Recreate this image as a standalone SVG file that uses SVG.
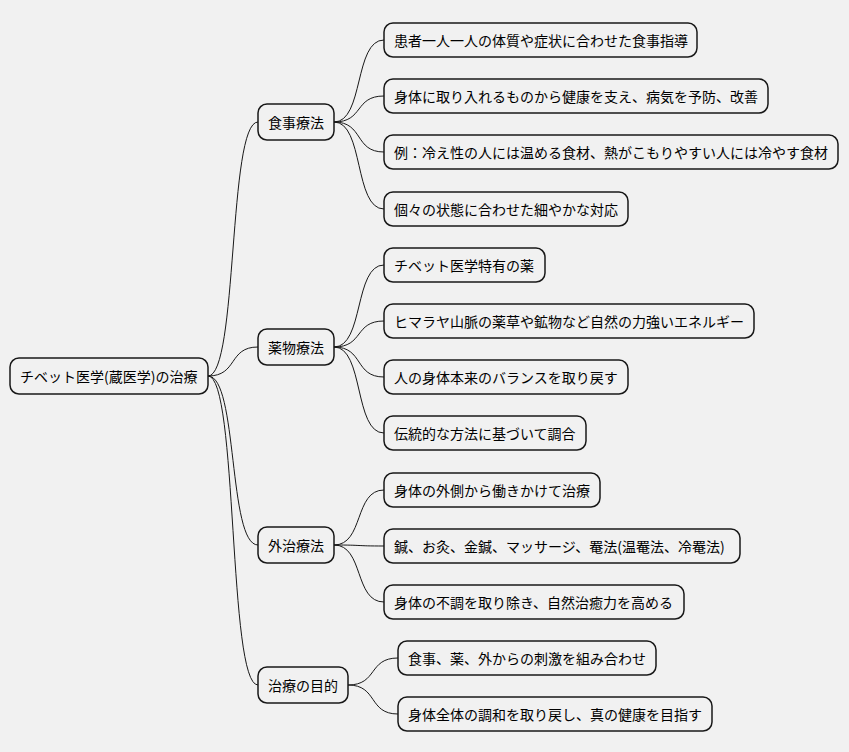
<svg xmlns="http://www.w3.org/2000/svg" width="849" height="752" viewBox="0 0 849 752">
<style>
rect{fill:#f1f1f1;stroke:#181818;stroke-width:1.5}
text{font-family:"Noto Sans CJK JP","Noto Sans",sans-serif;font-size:14px;fill:#000;dominant-baseline:central}
#c path{fill:none;stroke:#181818;stroke-width:1}
</style>
<rect width="849" height="752" fill="#fff" style="stroke:none"/>
<g id="c">
<path d="M208,376 C238,376 228,122 258,122"/>
<path d="M208,376 C238,376 228,347 258,347"/>
<path d="M208,376 C238,376 228,545 258,545"/>
<path d="M208,376 C238,376 228,685 258,685"/>
<path d="M334,122 C364,122 354,40 384,40"/>
<path d="M334,122 C364,122 354,96 384,96"/>
<path d="M334,122 C364,122 354,152 384,152"/>
<path d="M334,122 C364,122 354,209 384,209"/>
<path d="M334,347 C364,347 354,265 384,265"/>
<path d="M334,347 C364,347 354,321 384,321"/>
<path d="M334,347 C364,347 354,377 384,377"/>
<path d="M334,347 C364,347 354,433 384,433"/>
<path d="M334,545 C364,545 354,490 384,490"/>
<path d="M334,545 C364,545 354,546 384,546"/>
<path d="M334,545 C364,545 354,602 384,602"/>
<path d="M348,685 C378,685 368,658 398,658"/>
<path d="M348,685 C378,685 368,714 398,714"/>
</g>
<g id="root"><rect x="10" y="358" width="198" height="36" rx="9"/><text x="20" y="376">チベット医学(蔵医学)の治療</text></g>
<g id="n1"><rect x="258" y="104" width="76" height="36" rx="9"/><text x="268" y="122">食事療法</text></g>
<g id="n2"><rect x="258" y="329" width="76" height="36" rx="9"/><text x="268" y="347">薬物療法</text></g>
<g id="n3"><rect x="258" y="527" width="76" height="36" rx="9"/><text x="268" y="545">外治療法</text></g>
<g id="n4"><rect x="258" y="667" width="90" height="36" rx="9"/><text x="268" y="685">治療の目的</text></g>
<g id="l1"><rect x="384" y="23" width="313" height="34" rx="9"/><text x="394" y="40">患者一人一人の体質や症状に合わせた食事指導</text></g>
<g id="l2"><rect x="384" y="79" width="384" height="34" rx="9"/><text x="394" y="96">身体に取り入れるものから健康を支え、病気を予防、改善</text></g>
<g id="l3"><rect x="384" y="135" width="454" height="34" rx="9"/><text x="394" y="152">例：冷え性の人には温める食材、熱がこもりやすい人には冷やす食材</text></g>
<g id="l4"><rect x="384" y="192" width="244" height="34" rx="9"/><text x="394" y="209">個々の状態に合わせた細やかな対応</text></g>
<g id="l5"><rect x="384" y="248" width="161" height="34" rx="9"/><text x="394" y="265">チベット医学特有の薬</text></g>
<g id="l6"><rect x="384" y="304" width="370" height="34" rx="9"/><text x="394" y="321">ヒマラヤ山脈の薬草や鉱物など自然の力強いエネルギー</text></g>
<g id="l7"><rect x="384" y="360" width="244" height="34" rx="9"/><text x="394" y="377">人の身体本来のバランスを取り戻す</text></g>
<g id="l8"><rect x="384" y="416" width="202" height="34" rx="9"/><text x="394" y="433">伝統的な方法に基づいて調合</text></g>
<g id="l9"><rect x="384" y="473" width="216" height="34" rx="9"/><text x="394" y="490">身体の外側から働きかけて治療</text></g>
<g id="l10"><rect x="384" y="529" width="356" height="34" rx="9"/><text x="394" y="546">鍼、お灸、金鍼、マッサージ、罨法(温罨法、冷罨法)</text></g>
<g id="l11"><rect x="384" y="585" width="300" height="34" rx="9"/><text x="394" y="602">身体の不調を取り除き、自然治癒力を高める</text></g>
<g id="l12"><rect x="398" y="641" width="258" height="34" rx="9"/><text x="408" y="658">食事、薬、外からの刺激を組み合わせ</text></g>
<g id="l13"><rect x="398" y="697" width="314" height="34" rx="9"/><text x="408" y="714">身体全体の調和を取り戻し、真の健康を目指す</text></g>
</svg>
